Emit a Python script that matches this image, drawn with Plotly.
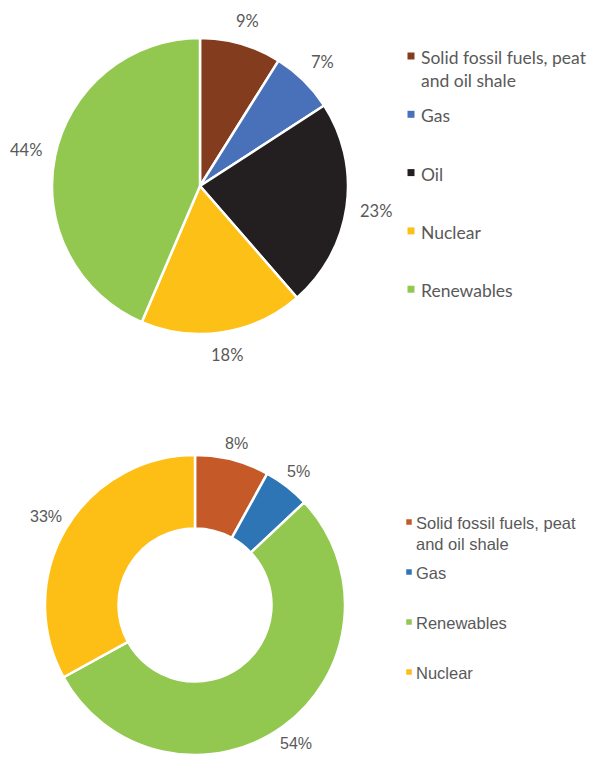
import math
import plotly.graph_objects as go

# Top pie data
top_labels = ["Solid fossil fuels, peat and oil shale", "Gas", "Oil", "Nuclear", "Renewables"]
top_values = [9, 7, 23, 18, 44]
top_colors = ["#843C1E", "#4871B9", "#231F20", "#FDC016", "#92C850"]

# Bottom donut data
bot_labels = ["Solid fossil fuels, peat and oil shale", "Gas", "Renewables", "Nuclear"]
bot_values = [8, 5, 54, 33]
bot_colors = ["#C55A28", "#2E75B6", "#92C850", "#FDBF16"]

W, H = 589, 765
GRAY = "#595959"
TOP_FONT = "Lato"
BOT_FONT = "Liberation Sans, Arial"

# pie geometry (pixels): center x, center y, radius
TOP_GEOM = (200, 186, 148)
BOT_GEOM = (195, 605, 150)

fig = go.Figure()


def dom(geom):
    cx, cy, r = geom
    return dict(x=[(cx - r) / W, (cx + r) / W], y=[1 - (cy + r) / H, 1 - (cy - r) / H])


fig.add_trace(go.Pie(
    labels=top_labels, values=top_values, sort=False, direction="clockwise",
    rotation=0, marker=dict(colors=top_colors, line=dict(color="white", width=2.5)),
    textinfo="none", domain=dom(TOP_GEOM), showlegend=False, hoverinfo="skip",
))

fig.add_trace(go.Pie(
    labels=bot_labels, values=bot_values, sort=False, direction="clockwise",
    rotation=0, hole=0.51,
    marker=dict(colors=bot_colors, line=dict(color="white", width=2.5)),
    textinfo="none", domain=dom(BOT_GEOM), showlegend=False, hoverinfo="skip",
))

shapes = []
annotations = []


def pct_labels(values, geom, gap, font, fsize):
    cx, cy, r = geom
    total = sum(values)
    cum = 0
    for v in values:
        mid = (cum + v / 2) / total * 2 * math.pi
        cum += v
        txt = f"{v}%"
        w = fsize * (0.56 * (len(txt) - 1) + 0.85)
        h = fsize * 1.1
        s, c = math.sin(mid), -math.cos(mid)
        d = r + gap + abs(s) * w / 2 + abs(c) * h / 2
        x, y = cx + d * s, cy + d * c
        annotations.append(dict(xref="paper", yref="paper", x=x / W, y=1 - y / H,
                                xanchor="center", yanchor="middle", showarrow=False,
                                text=txt, font=dict(family=font, size=fsize, color=GRAY)))


pct_labels(top_values, TOP_GEOM, 12, TOP_FONT, 16.5)
pct_labels(bot_values, BOT_GEOM, 5, BOT_FONT, 16)


def legend_block(labels, colors, y0, step, msize, mx, tx, font, fsize):
    for i, (lab, col) in enumerate(zip(labels, colors)):
        yc = y0 + i * step
        shapes.append(dict(type="rect", xref="paper", yref="paper",
                           x0=(mx - msize / 2) / W, x1=(mx + msize / 2) / W,
                           y0=1 - (yc + msize / 2) / H, y1=1 - (yc - msize / 2) / H,
                           fillcolor=col, line=dict(width=0)))
        text = lab.replace(", peat and", ", peat<br>and")
        annotations.append(dict(xref="paper", yref="paper", x=tx / W, y=1 - (yc - fsize * 0.62) / H,
                                xanchor="left", yanchor="top", align="left", showarrow=False,
                                text=text, font=dict(family=font, size=fsize, color=GRAY)))


legend_block(top_labels, top_colors, 56, 58.3, 7, 411, 419, TOP_FONT, 17.5)
legend_block(bot_labels, bot_colors, 522, 50, 5.5, 409, 414, BOT_FONT, 16.5)

fig.update_layout(
    width=W, height=H, margin=dict(l=0, r=0, t=0, b=0),
    paper_bgcolor="white", plot_bgcolor="white",
    shapes=shapes, annotations=annotations,
)

fig.write_html("out.html", config={"displayModeBar": False},
               post_script="document.body.style.margin='0px';")
